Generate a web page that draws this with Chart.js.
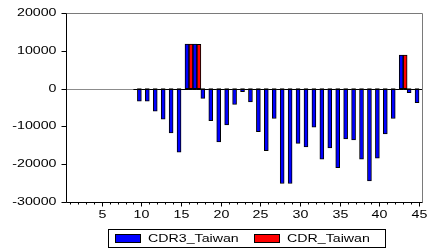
<!DOCTYPE html>
<html>
<head>
<meta charset="utf-8">
<script src="https://cdn.jsdelivr.net/npm/chart.js@4"></script>
<style>
  html, body { margin: 0; padding: 0; background: #fff; }
  #wrap { width: 430px; height: 252px; }
</style>
</head>
<body>
<div id="wrap"><canvas id="chart" width="430" height="252"></canvas></div>
<script>
const periods = Array.from({ length: 45 }, (_, i) => String(i + 1));
const cdr3Taiwan = [
  null, null, null, null, null, null, null, null, null,
  -3300, -3300, -6000, -8100, -11700, -16800, 11800, 11800, -2600, -8500,
  -14100, -9600, -4200, -800, -3500, -11400, -16400, -7900, -25100, -25100,
  -14500, -15400, -10200, -18700, -15700, -20900, -13300, -13600, -18700, -24400,
  -18400, -12000, -7900, 8900, -1100, -3700
];
const cdrTaiwan = [
  null, null, null, null, null, null, null, null, 0,
  0, 0, 0, 0, 0, 0, 11800, 11700, 0, 0,
  0, 0, 0, 0, 0, 0, 0, 0, 0, 0,
  0, 0, 0, 0, 0, 0, 0, 0, 0, 0,
  0, 0, 0, 8900, 0, 0
];
const yTicks = [-30000, -20000, -10000, 0, 10000, 20000];
const xTickLabels = ['5', '10', '15', '20', '25', '30', '35', '40', '45'];

const FONT = '10px "Liberation Sans", Arial, sans-serif';
const STRETCH = 1.42;

// EViews draws its text wide, so stretch it horizontally
function wideText(ctx, text, x, y, align) {
  ctx.save();
  ctx.font = FONT;
  ctx.textBaseline = 'middle';
  const w = ctx.measureText(text).width * STRETCH;
  let left = x;
  if (align === 'right') left = x - w;
  if (align === 'center') left = x - w / 2;
  ctx.translate(left, y);
  ctx.scale(STRETCH, 1);
  ctx.textAlign = 'left';
  ctx.fillStyle = '#000';
  ctx.fillText(text, 0, 0);
  ctx.restore();
}

const frame = {
  id: 'frame',
  beforeDatasetsDraw(c) {
    const { ctx, chartArea: a, scales } = c;
    const y0 = Math.round(scales.y.getPixelForValue(0)) + 0.5;
    ctx.save();
    ctx.strokeStyle = '#8c8c8c';
    ctx.lineWidth = 1;
    ctx.beginPath();
    ctx.moveTo(a.left, y0);
    ctx.lineTo(a.right, y0);
    ctx.stroke();
    ctx.restore();
  },
  afterDatasetsDraw(c) {
    const { ctx, chartArea: a, scales } = c;
    const x = scales.x, y = scales.y;
    const L = Math.round(a.left) + 0.5, R = Math.round(a.right) - 0.5;
    const T = Math.round(a.top) + 0.5, B = Math.round(a.bottom) + 0.5;
    ctx.save();
    ctx.lineWidth = 1;

    // baseline under zero bars
    const y0 = Math.round(y.getPixelForValue(0)) + 0.5;
    ctx.strokeStyle = '#000';
    c.data.datasets.forEach((ds, di) => {
      c.getDatasetMeta(di).data.forEach((el, i) => {
        if (ds.data[i] === null) return;
        ctx.beginPath();
        ctx.moveTo(el.x - el.width / 2, y0);
        ctx.lineTo(el.x + el.width / 2, y0);
        ctx.stroke();
      });
    });

    // top and right border
    ctx.strokeStyle = '#7a7a7a';
    ctx.beginPath();
    ctx.moveTo(L, T);
    ctx.lineTo(R, T);
    ctx.lineTo(R, B);
    ctx.stroke();

    // axes
    ctx.strokeStyle = '#000';
    ctx.beginPath();
    ctx.moveTo(L, T);
    ctx.lineTo(L, B);
    ctx.lineTo(R, B);
    ctx.stroke();

    yTicks.forEach(v => {
      const py = Math.round(y.getPixelForValue(v)) + 0.5;
      ctx.beginPath();
      ctx.moveTo(L - 5, py);
      ctx.lineTo(L, py);
      ctx.stroke();
      wideText(ctx, String(v), L - 10, py, 'right');
    });

    periods.forEach((p, i) => {
      const px = Math.round(x.getPixelForValue(i)) + 0.5;
      const major = xTickLabels.includes(p);
      ctx.beginPath();
      ctx.moveTo(px, B);
      ctx.lineTo(px, B + (major ? 4 : 2));
      ctx.stroke();
      if (major) wideText(ctx, p, px, B + 13, 'center');
    });

    // legend
    ctx.fillStyle = '#fff';
    ctx.strokeStyle = '#000';
    ctx.strokeRect(108.5, 229.5, 277, 18);
    const items = [
      { ds: c.data.datasets[0], sx: 115 },
      { ds: c.data.datasets[1], sx: 254 }
    ];
    items.forEach(it => {
      ctx.fillStyle = it.ds.backgroundColor;
      ctx.fillRect(it.sx, 234.5, 25, 8);
      ctx.strokeRect(it.sx + 0.5, 234.5, 25, 8);
      wideText(ctx, it.ds.label, it.sx + 33, 239, 'left');
    });
    ctx.restore();
  }
};

new Chart(document.getElementById('chart'), {
  type: 'bar',
  data: {
    labels: periods,
    datasets: [
      { label: 'CDR3_Taiwan', data: cdr3Taiwan, backgroundColor: '#0000ff', borderColor: '#000', borderWidth: 1, borderSkipped: false },
      { label: 'CDR_Taiwan', data: cdrTaiwan, backgroundColor: '#ff0000', borderColor: '#000', borderWidth: 1, borderSkipped: false }
    ]
  },
  options: {
    responsive: false,
    animation: false,
    events: [],
    layout: { padding: { left: 66, right: 7, top: 13, bottom: 50 } },
    datasets: { bar: { categoryPercentage: 1, barPercentage: 1 } },
    plugins: { legend: { display: false }, tooltip: { enabled: false } },
    scales: {
      x: { display: false, offset: true },
      y: { display: false, min: -30000, max: 20000 }
    }
  },
  plugins: [frame]
});
</script>
</body>
</html>
